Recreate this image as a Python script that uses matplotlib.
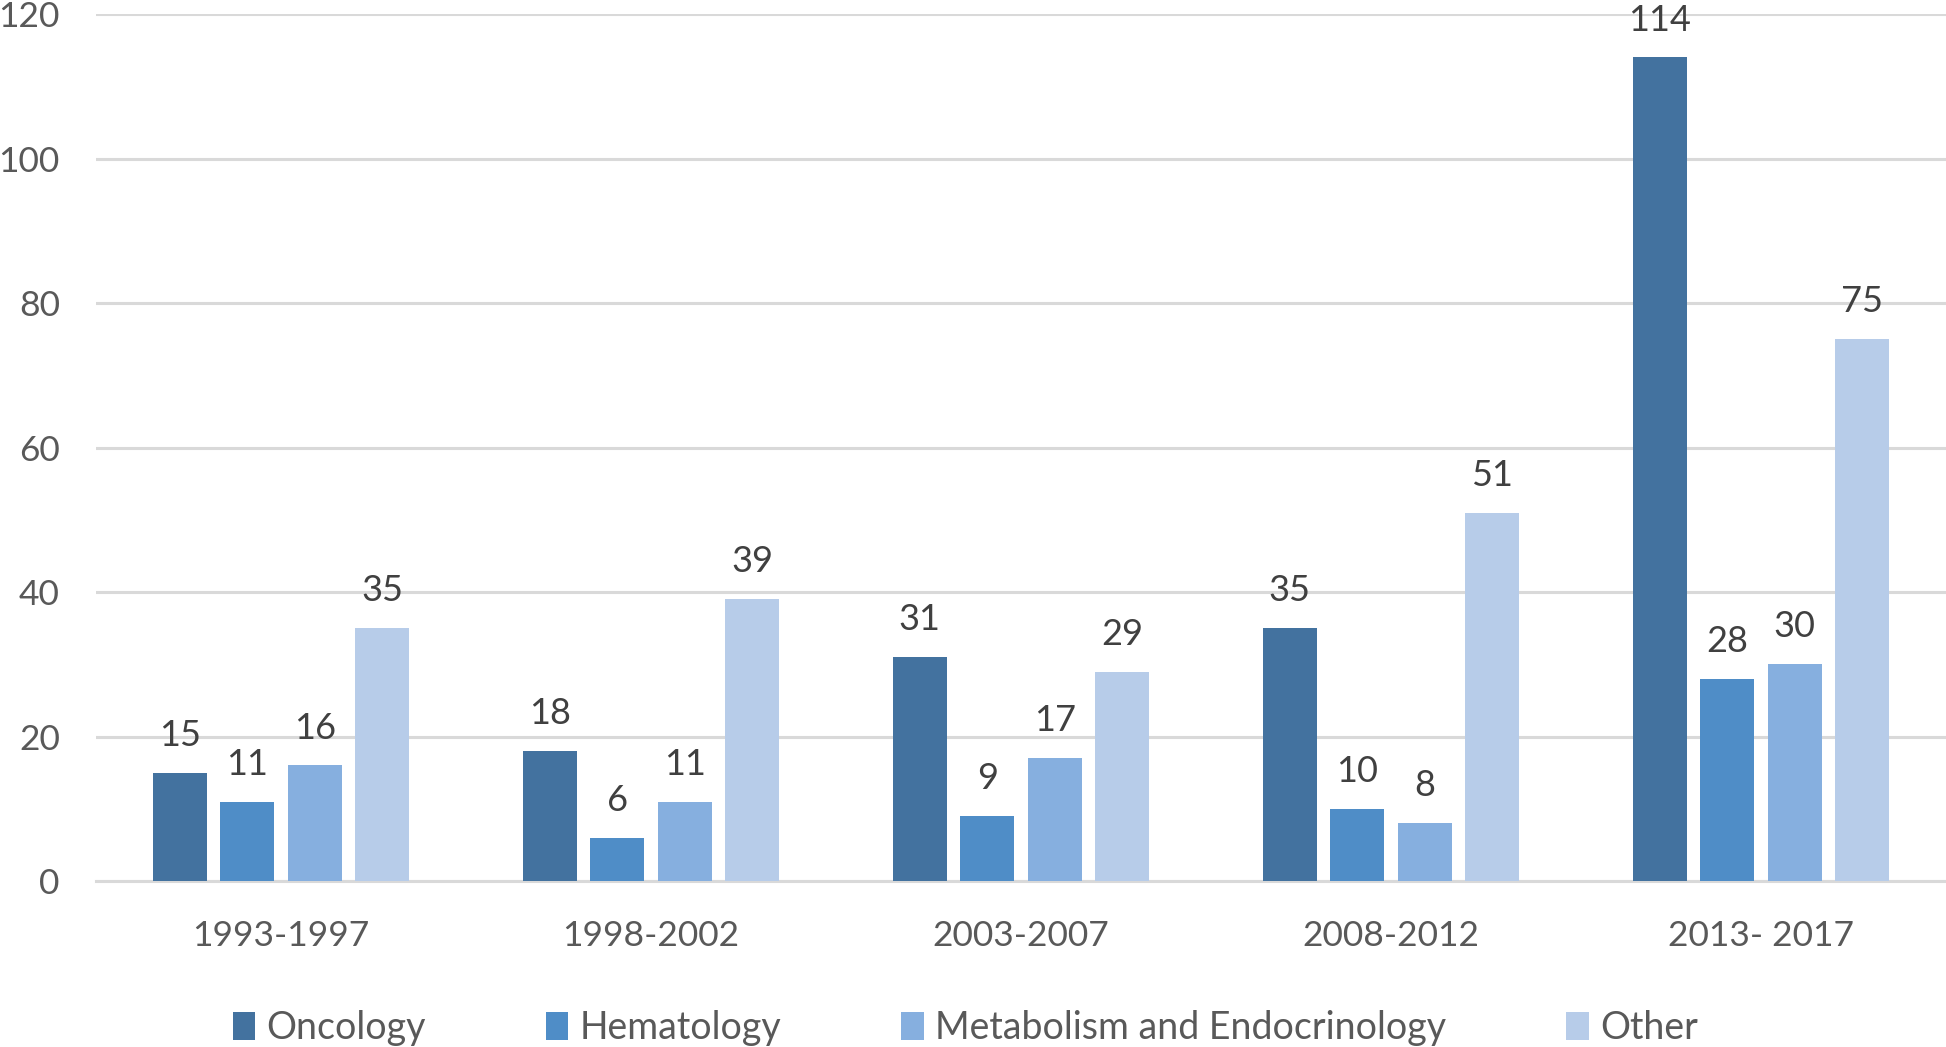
import numpy as np
import matplotlib
matplotlib.use("Agg")
import matplotlib.pyplot as plt

plt.rcParams['font.family'] = ['Lato', 'DejaVu Sans']

# data
periods = ["1993-1997", "1998-2002", "2003-2007", "2008-2012", "2013- 2017"]
series = ["Oncology", "Hematology", "Metabolism and Endocrinology", "Other"]
oncology = [15, 18, 31, 35, 114]
hematology = [11, 6, 9, 10, 28]
metabolism = [16, 11, 17, 8, 30]
other = [35, 39, 29, 51, 75]
colors = ["#43729F", "#4F8DC7", "#86AFDF", "#B7CCE9"]

values = [oncology, hematology, metabolism, other]

fig = plt.figure(figsize=(19.46, 10.47), dpi=100)
ax = fig.add_axes([0.0493, 0.1585, 0.9507, 0.8281])

x = np.arange(len(periods))
width = 0.146
step = 0.1824
for i, (name, vals) in enumerate(zip(series, values)):
    pos = x + (i - 1.5) * step
    bars = ax.bar(pos, vals, width, color=colors[i], label=name, zorder=3)
    for b, v in zip(bars, vals):
        ax.annotate(str(v), (b.get_x() + b.get_width() / 2, v),
                    xytext=(0, 15), textcoords="offset points",
                    ha="center", va="bottom", fontsize=26, color="#404040")

ax.set_xlim(-0.5, 4.5)
ax.set_ylim(0, 120)
ax.set_yticks(range(0, 121, 20))
ax.set_xticks(x)
ax.set_xticklabels(periods)
ax.grid(axis="y", color="#D9D9D9", linewidth=2.2, zorder=0)
for s in ["top", "right", "left"]:
    ax.spines[s].set_visible(False)
ax.spines["bottom"].set_color("#D9D9D9")
ax.spines["bottom"].set_linewidth(2.2)
ax.tick_params(axis="both", length=0, labelsize=25.5, labelcolor="#595959")
ax.tick_params(axis="y", pad=26)
ax.tick_params(axis="x", pad=28)

fig.legend(loc="center", bbox_to_anchor=(0.496, 0.018), ncol=4, frameon=False,
           fontsize=27, labelcolor="#595959", handlelength=0.6, handleheight=0.75,
           handletextpad=0.3, columnspacing=3.2)

plt.savefig("out.png", dpi=100)
